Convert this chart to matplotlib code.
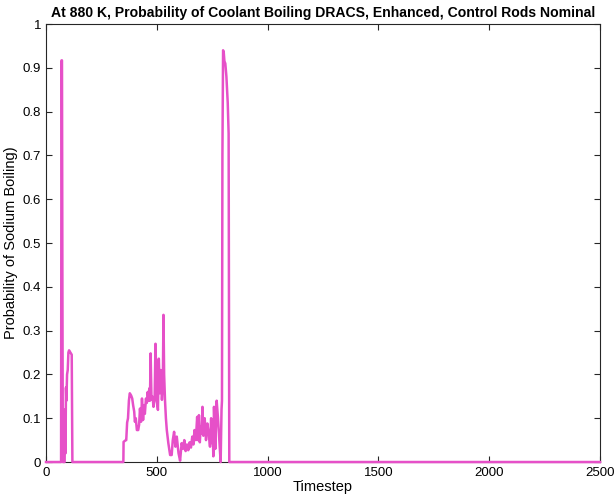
import matplotlib
matplotlib.use("Agg")
import matplotlib.pyplot as plt

# early burst
t_early = [0, 68, 69, 70, 72, 74, 76, 84, 86, 88, 90, 92, 95, 98, 101, 104, 110, 116, 119]
p_early = [0, 0, 0.5, 0.917, 0.917, 0.4, 0, 0, 0.12, 0.02, 0.17, 0.14, 0.2, 0.21, 0.25, 0.255,
           0.25, 0.245, 0]

# middle noisy cluster
t_mid = [349, 350, 360, 362, 366, 370, 374, 378, 384, 389,
         393, 398, 401, 405, 410, 416, 420, 424, 429, 433,
         438, 442, 446, 451, 455, 459, 463, 466, 469, 472,
         476, 481, 485, 490, 494, 500, 505, 509, 514, 518,
         523, 527, 530, 533, 537, 541, 545, 552, 560, 567,
         572, 578, 584, 590, 598, 605, 612, 618, 624, 630,
         636, 642, 648, 654, 660, 665, 670, 676, 682, 686,
         690, 694, 698, 702, 706, 710, 716, 722, 728, 734,
         740, 745, 749, 752, 755, 758, 764, 770, 776, 782,
         788, 792]
p_mid = [0, 0.046, 0.05, 0.05, 0.09, 0.1, 0.14, 0.157, 0.152, 0.145,
         0.13, 0.115, 0.092, 0.1, 0.073, 0.073, 0.085, 0.122, 0.092, 0.145,
         0.096, 0.13, 0.11, 0.145, 0.135, 0.16, 0.14, 0.168, 0.14, 0.248,
         0.142, 0.149, 0.126, 0.142, 0.27, 0.142, 0.119, 0.236, 0.157, 0.21,
         0.142, 0.172, 0.336, 0.2, 0.14, 0.1, 0.073, 0.043, 0.016, 0.016,
         0.05, 0.069, 0.035, 0.058, 0.02, 0.003, 0.043, 0.03, 0.05, 0.025,
         0.04, 0.027, 0.045, 0.033, 0.058, 0.04, 0.073, 0.05, 0.103, 0.05,
         0.107, 0.045, 0.08, 0.065, 0.126, 0.06, 0.1, 0.05, 0.088, 0.065,
         0.035, 0.1, 0.043, 0.073, 0.013, 0.126, 0.03, 0.14, 0.1, 0.05,
         0.0, 0.12]

# late large spike and tail
t_late = [794, 796, 799, 802, 805, 809, 814, 820, 824, 827, 2500]
p_late = [0.14, 0.7, 0.94, 0.935, 0.915, 0.91, 0.88, 0.82, 0.75, 0, 0]

timestep = t_early + t_mid + t_late
probability = p_early + p_mid + p_late

plt.rcParams['font.family'] = ['Liberation Sans', 'DejaVu Sans']

fig = plt.figure(figsize=(6.16, 4.96), dpi=100)
ax = fig.add_axes([0.0747, 0.0685, 0.8994, 0.8831])
ax.plot(timestep, probability, color='#E650C8', linewidth=1.8, clip_on=False, zorder=5)

ax.set_xlim(0, 2500)
ax.set_ylim(0, 1)
ax.set_xticks([0, 500, 1000, 1500, 2000, 2500])
ax.set_yticks([i / 10 for i in range(11)])
ax.set_yticklabels(['0', '0.1', '0.2', '0.3', '0.4', '0.5', '0.6', '0.7', '0.8', '0.9', '1'])
ax.tick_params(direction='in', top=True, right=True, length=4, width=0.8,
               labelsize=9.5, colors='#262626', labelcolor='black')
for s in ax.spines.values():
    s.set_color('#262626')
    s.set_linewidth(0.8)

ax.set_xlabel('Timestep', fontsize=10.5, labelpad=1)
ax.set_ylabel('Probability of Sodium Boiling)', fontsize=10.5, labelpad=3)
ax.set_title('At 880 K, Probability of Coolant Boiling DRACS, Enhanced, Control Rods Nominal',
             fontsize=10.1, fontweight='bold', pad=5)

fig.savefig('out.png', dpi=100)
